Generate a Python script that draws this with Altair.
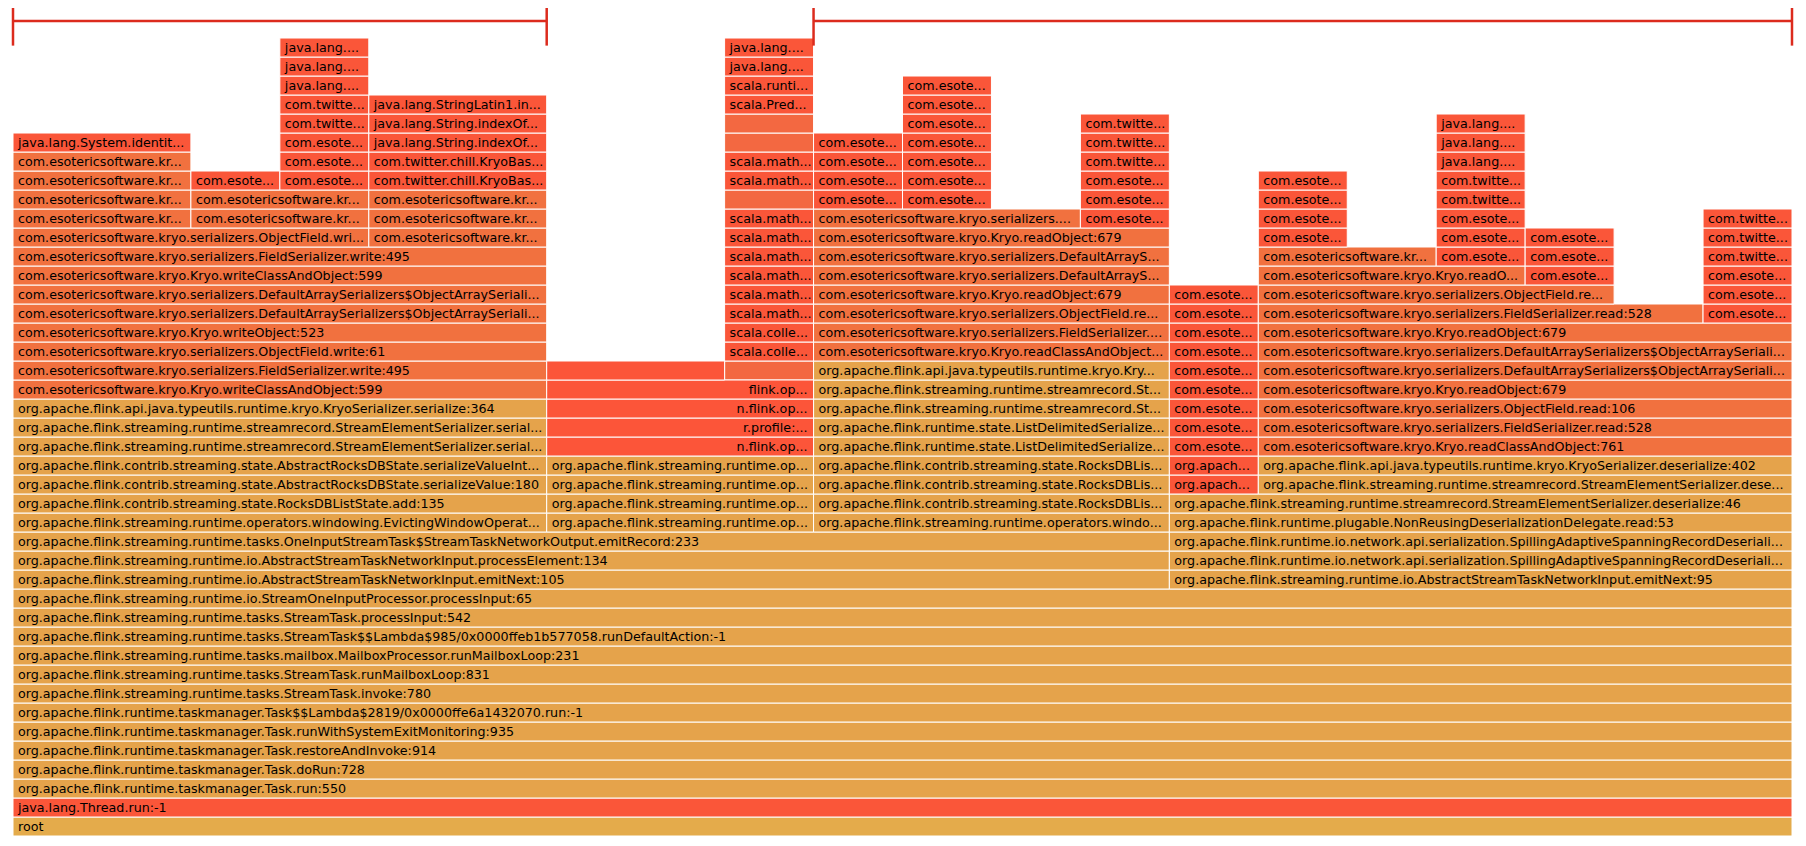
import altair as alt
import pandas as pd

TOTAL_SAMPLES = 20

# Frames that span every sample, from the root upward (depth 0..12)
base_stack = [
    "root",
    "java.lang.Thread.run:-1",
    "org.apache.flink.runtime.taskmanager.Task.run:550",
    "org.apache.flink.runtime.taskmanager.Task.doRun:728",
    "org.apache.flink.runtime.taskmanager.Task.restoreAndInvoke:914",
    "org.apache.flink.runtime.taskmanager.Task.runWithSystemExitMonitoring:935",
    "org.apache.flink.runtime.taskmanager.Task$$Lambda$2819/0x0000ffe6a1432070.run:-1",
    "org.apache.flink.streaming.runtime.tasks.StreamTask.invoke:780",
    "org.apache.flink.streaming.runtime.tasks.StreamTask.runMailboxLoop:831",
    "org.apache.flink.streaming.runtime.tasks.mailbox.MailboxProcessor.runMailboxLoop:231",
    "org.apache.flink.streaming.runtime.tasks.StreamTask$$Lambda$985/0x0000ffeb1b577058.runDefaultAction:-1",
    "org.apache.flink.streaming.runtime.tasks.StreamTask.processInput:542",
    "org.apache.flink.streaming.runtime.io.StreamOneInputProcessor.processInput:65",
]

# (depth, first sample, samples, label)
process_frames = [
    (13, 0, 13, "org.apache.flink.streaming.runtime.io.AbstractStreamTaskNetworkInput.emitNext:105"),
    (14, 0, 13, "org.apache.flink.streaming.runtime.io.AbstractStreamTaskNetworkInput.processElement:134"),
    (15, 0, 13, "org.apache.flink.streaming.runtime.tasks.OneInputStreamTask$StreamTaskNetworkOutput.emitRecord:233"),
]

serialize_frames = [
    (16, 0, 6, "org.apache.flink.streaming.runtime.operators.windowing.EvictingWindowOperat..."),
    (17, 0, 6, "org.apache.flink.contrib.streaming.state.RocksDBListState.add:135"),
    (18, 0, 6, "org.apache.flink.contrib.streaming.state.AbstractRocksDBState.serializeValue:180"),
    (19, 0, 6, "org.apache.flink.contrib.streaming.state.AbstractRocksDBState.serializeValueInt..."),
    (20, 0, 6, "org.apache.flink.streaming.runtime.streamrecord.StreamElementSerializer.serial..."),
    (21, 0, 6, "org.apache.flink.streaming.runtime.streamrecord.StreamElementSerializer.serial..."),
    (22, 0, 6, "org.apache.flink.api.java.typeutils.runtime.kryo.KryoSerializer.serialize:364"),
    (23, 0, 6, "com.esotericsoftware.kryo.Kryo.writeClassAndObject:599"),
    (24, 0, 6, "com.esotericsoftware.kryo.serializers.FieldSerializer.write:495"),
    (25, 0, 6, "com.esotericsoftware.kryo.serializers.ObjectField.write:61"),
    (26, 0, 6, "com.esotericsoftware.kryo.Kryo.writeObject:523"),
    (27, 0, 6, "com.esotericsoftware.kryo.serializers.DefaultArraySerializers$ObjectArraySeriali..."),
    (28, 0, 6, "com.esotericsoftware.kryo.serializers.DefaultArraySerializers$ObjectArraySeriali..."),
    (29, 0, 6, "com.esotericsoftware.kryo.Kryo.writeClassAndObject:599"),
    (30, 0, 6, "com.esotericsoftware.kryo.serializers.FieldSerializer.write:495"),
    (31, 0, 4, "com.esotericsoftware.kryo.serializers.ObjectField.wri..."),
    (31, 4, 2, "com.esotericsoftware.kr..."),
    (32, 0, 2, "com.esotericsoftware.kr..."),
    (32, 2, 2, "com.esotericsoftware.kr..."),
    (32, 4, 2, "com.esotericsoftware.kr..."),
    (33, 0, 2, "com.esotericsoftware.kr..."),
    (33, 2, 2, "com.esotericsoftware.kr..."),
    (33, 4, 2, "com.esotericsoftware.kr..."),
    (34, 0, 2, "com.esotericsoftware.kr..."),
    (34, 2, 1, "com.esote..."),
    (34, 3, 1, "com.esote..."),
    (34, 4, 2, "com.twitter.chill.KryoBas..."),
    (35, 0, 2, "com.esotericsoftware.kr..."),
    (35, 3, 1, "com.esote..."),
    (35, 4, 2, "com.twitter.chill.KryoBas..."),
    (36, 0, 2, "java.lang.System.identit..."),
    (36, 3, 1, "com.esote..."),
    (36, 4, 2, "java.lang.String.indexOf..."),
    (37, 3, 1, "com.twitte..."),
    (37, 4, 2, "java.lang.String.indexOf..."),
    (38, 3, 1, "com.twitte..."),
    (38, 4, 2, "java.lang.StringLatin1.in..."),
    (39, 3, 1, "java.lang...."),
    (40, 3, 1, "java.lang...."),
    (41, 3, 1, "java.lang...."),
]

operator_frames = [
    (16, 6, 3, "org.apache.flink.streaming.runtime.op..."),
    (17, 6, 3, "org.apache.flink.streaming.runtime.op..."),
    (18, 6, 3, "org.apache.flink.streaming.runtime.op..."),
    (19, 6, 3, "org.apache.flink.streaming.runtime.op..."),
    (24, 8, 1, ""),
    (25, 8, 1, "scala.colle..."),
    (26, 8, 1, "scala.colle..."),
    (27, 8, 1, "scala.math..."),
    (28, 8, 1, "scala.math..."),
    (29, 8, 1, "scala.math..."),
    (30, 8, 1, "scala.math..."),
    (31, 8, 1, "scala.math..."),
    (32, 8, 1, "scala.math..."),
    (33, 8, 1, ""),
    (34, 8, 1, "scala.math..."),
    (35, 8, 1, "scala.math..."),
    (36, 8, 1, ""),
    (37, 8, 1, ""),
    (38, 8, 1, "scala.Pred..."),
    (39, 8, 1, "scala.runti..."),
    (40, 8, 1, "java.lang...."),
    (41, 8, 1, "java.lang...."),
]

# frames whose names are painted over; only the visible tail is kept
redacted_frames = [
    (20, 6, 3, "n.flink.op..."),
    (21, 6, 3, "r.profile:..."),
    (22, 6, 3, "n.flink.op..."),
    (23, 6, 3, "flink.op..."),
    (24, 6, 2, ""),
]

restore_frames = [
    (16, 9, 4, "org.apache.flink.streaming.runtime.operators.windo..."),
    (17, 9, 4, "org.apache.flink.contrib.streaming.state.RocksDBLis..."),
    (18, 9, 4, "org.apache.flink.contrib.streaming.state.RocksDBLis..."),
    (19, 9, 4, "org.apache.flink.contrib.streaming.state.RocksDBLis..."),
    (20, 9, 4, "org.apache.flink.runtime.state.ListDelimitedSerialize..."),
    (21, 9, 4, "org.apache.flink.runtime.state.ListDelimitedSerialize..."),
    (22, 9, 4, "org.apache.flink.streaming.runtime.streamrecord.St..."),
    (23, 9, 4, "org.apache.flink.streaming.runtime.streamrecord.St..."),
    (24, 9, 4, "org.apache.flink.api.java.typeutils.runtime.kryo.Kry..."),
    (25, 9, 4, "com.esotericsoftware.kryo.Kryo.readClassAndObject..."),
    (26, 9, 4, "com.esotericsoftware.kryo.serializers.FieldSerializer...."),
    (27, 9, 4, "com.esotericsoftware.kryo.serializers.ObjectField.re..."),
    (28, 9, 4, "com.esotericsoftware.kryo.Kryo.readObject:679"),
    (29, 9, 4, "com.esotericsoftware.kryo.serializers.DefaultArrayS..."),
    (30, 9, 4, "com.esotericsoftware.kryo.serializers.DefaultArrayS..."),
    (31, 9, 4, "com.esotericsoftware.kryo.Kryo.readObject:679"),
    (32, 9, 3, "com.esotericsoftware.kryo.serializers...."),
    (32, 12, 1, "com.esote..."),
    (33, 9, 1, "com.esote..."),
    (33, 10, 1, "com.esote..."),
    (33, 12, 1, "com.esote..."),
    (34, 9, 1, "com.esote..."),
    (34, 10, 1, "com.esote..."),
    (34, 12, 1, "com.esote..."),
    (35, 9, 1, "com.esote..."),
    (35, 10, 1, "com.esote..."),
    (35, 12, 1, "com.twitte..."),
    (36, 9, 1, "com.esote..."),
    (36, 10, 1, "com.esote..."),
    (36, 12, 1, "com.twitte..."),
    (37, 10, 1, "com.esote..."),
    (37, 12, 1, "com.twitte..."),
    (38, 10, 1, "com.esote..."),
    (39, 10, 1, "com.esote..."),
]

deserialize_frames = [
    (13, 13, 7, "org.apache.flink.streaming.runtime.io.AbstractStreamTaskNetworkInput.emitNext:95"),
    (14, 13, 7, "org.apache.flink.runtime.io.network.api.serialization.SpillingAdaptiveSpanningRecordDeseriali..."),
    (15, 13, 7, "org.apache.flink.runtime.io.network.api.serialization.SpillingAdaptiveSpanningRecordDeseriali..."),
    (16, 13, 7, "org.apache.flink.runtime.plugable.NonReusingDeserializationDelegate.read:53"),
    (17, 13, 7, "org.apache.flink.streaming.runtime.streamrecord.StreamElementSerializer.deserialize:46"),
    (18, 13, 1, "org.apach..."),
    (18, 14, 6, "org.apache.flink.streaming.runtime.streamrecord.StreamElementSerializer.dese..."),
    (19, 13, 1, "org.apach..."),
    (19, 14, 6, "org.apache.flink.api.java.typeutils.runtime.kryo.KryoSerializer.deserialize:402"),
    (20, 13, 1, "com.esote..."),
    (20, 14, 6, "com.esotericsoftware.kryo.Kryo.readClassAndObject:761"),
    (21, 13, 1, "com.esote..."),
    (21, 14, 6, "com.esotericsoftware.kryo.serializers.FieldSerializer.read:528"),
    (22, 13, 1, "com.esote..."),
    (22, 14, 6, "com.esotericsoftware.kryo.serializers.ObjectField.read:106"),
    (23, 13, 1, "com.esote..."),
    (23, 14, 6, "com.esotericsoftware.kryo.Kryo.readObject:679"),
    (24, 13, 1, "com.esote..."),
    (24, 14, 6, "com.esotericsoftware.kryo.serializers.DefaultArraySerializers$ObjectArraySeriali..."),
    (25, 13, 1, "com.esote..."),
    (25, 14, 6, "com.esotericsoftware.kryo.serializers.DefaultArraySerializers$ObjectArraySeriali..."),
    (26, 13, 1, "com.esote..."),
    (26, 14, 6, "com.esotericsoftware.kryo.Kryo.readObject:679"),
    (27, 13, 1, "com.esote..."),
    (27, 14, 5, "com.esotericsoftware.kryo.serializers.FieldSerializer.read:528"),
    (27, 19, 1, "com.esote..."),
    (28, 13, 1, "com.esote..."),
    (28, 14, 4, "com.esotericsoftware.kryo.serializers.ObjectField.re..."),
    (28, 19, 1, "com.esote..."),
    (29, 14, 3, "com.esotericsoftware.kryo.Kryo.readO..."),
    (29, 17, 1, "com.esote..."),
    (29, 19, 1, "com.esote..."),
    (30, 14, 2, "com.esotericsoftware.kr..."),
    (30, 16, 1, "com.esote..."),
    (30, 17, 1, "com.esote..."),
    (30, 19, 1, "com.twitte..."),
    (31, 14, 1, "com.esote..."),
    (31, 16, 1, "com.esote..."),
    (31, 17, 1, "com.esote..."),
    (31, 19, 1, "com.twitte..."),
    (32, 14, 1, "com.esote..."),
    (32, 16, 1, "com.esote..."),
    (32, 19, 1, "com.twitte..."),
    (33, 14, 1, "com.esote..."),
    (33, 16, 1, "com.twitte..."),
    (34, 14, 1, "com.esote..."),
    (34, 16, 1, "com.twitte..."),
    (35, 16, 1, "java.lang...."),
    (36, 16, 1, "java.lang...."),
    (37, 16, 1, "java.lang...."),
]

# annotation brackets above the graph (sample ranges)
brackets = [(0, 6), (9, 20)]


def family(label):
    if label == "root":
        return "root"
    if label == "":
        return "anonymous"
    if label.startswith("org.apache"):
        return "flink"
    if label.startswith("com.esotericsoftware"):
        return "kryo"
    return "jvm"


rows = []
for d, name in enumerate(base_stack):
    rows.append(dict(depth=d, start=0, end=TOTAL_SAMPLES, label=name, family=family(name), tail=""))
for group in (process_frames, serialize_frames, operator_frames, restore_frames, deserialize_frames):
    for d, s, w, name in group:
        rows.append(dict(depth=d, start=s, end=s + w, label=name, family=family(name), tail=""))
for d, s, w, tail in redacted_frames:
    rows.append(dict(depth=d, start=s, end=s + w, label="", family="redacted", tail=tail))
frames = pd.DataFrame(rows)

bracket_df = pd.DataFrame([dict(start=a, end=b) for a, b in brackets])
tick_df = pd.DataFrame([dict(pos=p) for a, b in brackets for p in (a, b)])

W = 1779
H = 828
YMAX = 43.58
PX = W / TOTAL_SAMPLES
FONT = "DejaVu Sans"
FSIZE = 12.7

xs = alt.Scale(domain=[0, TOTAL_SAMPLES], nice=False, zero=False)
ys = alt.Scale(domain=[0, YMAX], nice=False, zero=False)

palette = alt.Scale(
    domain=["root", "flink", "kryo", "jvm", "anonymous", "redacted"],
    range=["#E4AB4B", "#E5A34B", "#F1713F", "#FA5639", "#F36841", "#FC5539"],
)

base = alt.Chart(frames)

rects = base.transform_calculate(top="datum.depth + 1").mark_rect(
    stroke="#ffffff", strokeWidth=1
).encode(
    x=alt.X("start:Q", scale=xs, axis=None),
    x2="end:Q",
    y=alt.Y("depth:Q", scale=ys, axis=None),
    y2="top:Q",
    color=alt.Color("family:N", scale=palette, legend=None),
)

labels = base.transform_filter("datum.label != ''").transform_calculate(
    mid="datum.depth + 0.5", lim=f"(datum.end - datum.start) * {PX} - 7"
).mark_text(
    align="left", baseline="middle", dx=5, font=FONT, fontSize=FSIZE,
    color="#000000", limit={"expr": "datum.lim"}, ellipsis="...",
).encode(
    x=alt.X("start:Q", scale=xs, axis=None),
    y=alt.Y("mid:Q", scale=ys, axis=None),
    text="label:N",
)

tails = base.transform_filter("datum.tail != ''").transform_calculate(
    mid="datum.depth + 0.5"
).mark_text(
    align="right", baseline="middle", dx=-6, font=FONT, fontSize=FSIZE, color="#000000",
).encode(
    x=alt.X("end:Q", scale=xs, axis=None),
    y=alt.Y("mid:Q", scale=ys, axis=None),
    text="tail:N",
)

bracket_lines = alt.Chart(bracket_df).mark_rule(color="#DC2B1D", strokeWidth=2.5).encode(
    x=alt.X("start:Q", scale=xs, axis=None),
    x2="end:Q",
    y=alt.datum(42.89),
)

bracket_ticks = alt.Chart(tick_df).mark_rule(color="#DC2B1D", strokeWidth=2.5).encode(
    x=alt.X("pos:Q", scale=xs, axis=None),
    y=alt.datum(41.6),
    y2=alt.datum(YMAX),
)

chart = alt.layer(rects, labels, tails, bracket_lines, bracket_ticks).properties(
    width=W, height=H,
    padding={"left": 5, "top": 0, "right": 5, "bottom": 2},
    autosize=alt.AutoSizeParams(type="none"),
).configure_view(stroke=None)

chart.save("out.html", embed_options={"renderer": "svg", "actions": False})
